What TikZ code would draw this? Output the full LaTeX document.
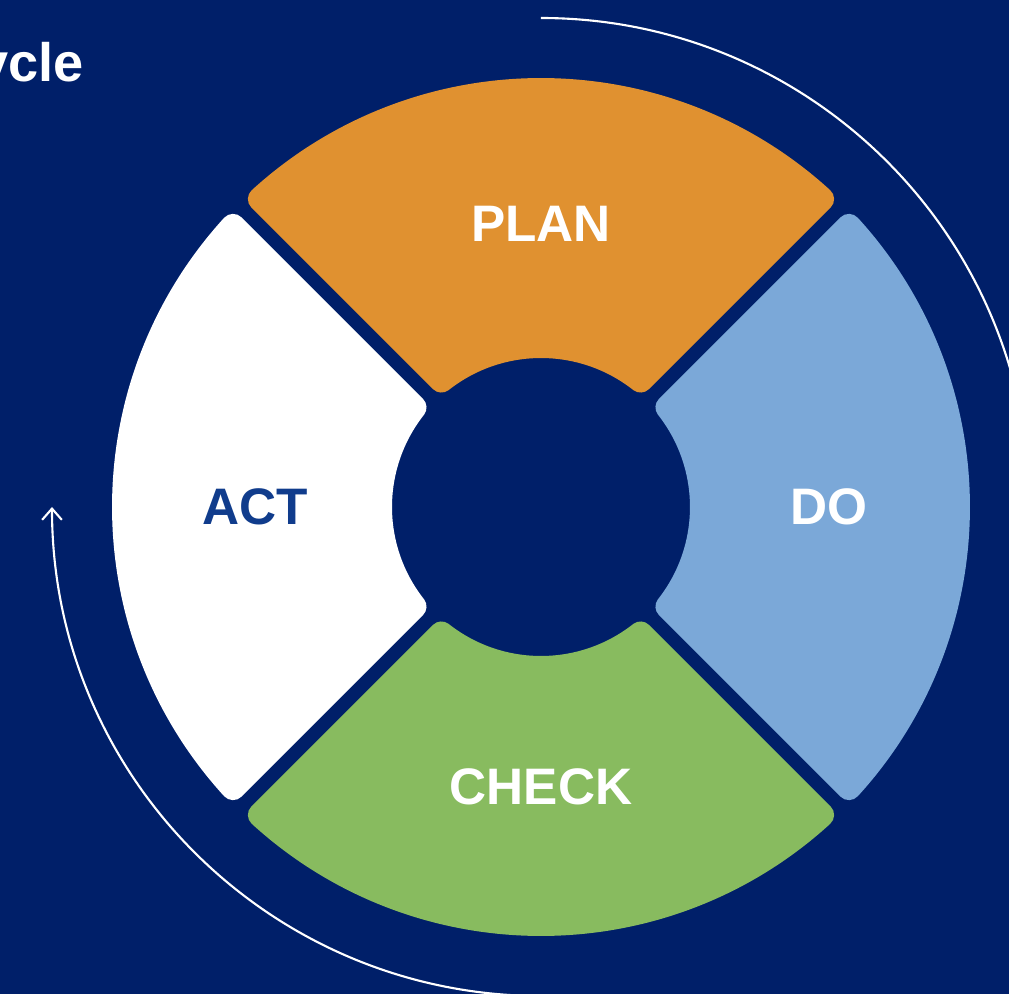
\documentclass[tikz,border=0pt]{standalone}
\usepackage{fontspec}
\setmainfont{Liberation Sans}
\usetikzlibrary{arrows.meta}

\definecolor{sfondo}{RGB}{0,31,105}
\definecolor{arancio}{RGB}{224,145,48}
\definecolor{azzurro}{RGB}{123,168,216}
\definecolor{verde}{RGB}{136,187,95}
\definecolor{bianco}{RGB}{255,255,255}
\definecolor{blu}{RGB}{16,60,140}

\begin{document}
\begin{tikzpicture}[x=0.025cm, y=0.025cm,
  font = \bfseries\fontsize{36.5}{40}\selectfont,
  settore/.style = {fill=#1, draw=#1, line width=0.6cm, line join=round},
  etichetta/.style = {text=#1, anchor=center, inner sep=0pt},
  freccia/.style = {white, line width=1.5pt}]
  % Sfondo e ritaglio
  \clip (-541,-487) rectangle (468,507);
  \fill[sfondo] (-541,-487) rectangle (468,507);

  % Centro e raggi
  \coordinate (O) at (0,0); % Centro del cerchio
  \pgfmathsetmacro{\Ro}{417} % raggio esterno (meno arrotondamento)
  \pgfmathsetmacro{\Ri}{161} % raggio interno (piu arrotondamento)
  \pgfmathsetmacro{\dest}{asin(19/\Ro)}
  \pgfmathsetmacro{\dint}{asin(19/\Ri)}

  % Disegna i quattro settori con le scritte
  \foreach \a/\r/\col/\testo/\tcol in {90/283/arancio/PLAN/white,
      0/288/azzurro/DO/white, 270/280/verde/CHECK/white, 180/286/bianco/ACT/blu}{
    \fill[settore=\col] (\a-45+\dest:\Ro)
      arc[start angle=\a-45+\dest, end angle=\a+45-\dest, radius=\Ro]
      -- (\a+45-\dint:\Ri)
      arc[start angle=\a+45-\dint, end angle=\a-45+\dint, radius=\Ri] -- cycle;
    \node[etichetta=\tcol] (\testo) at (\a:\r) {\testo};
  }

  % Titolo (tagliato dal bordo)
  \node[anchor=base east, text=white, inner sep=0pt,
        font=\bfseries\fontsize{38.5}{42}\selectfont] (titolo) at (-457,425) {Cycle};

  % Archi esterni
  \coordinate (A) at (90:489); % inizio arco superiore
  \draw[freccia] (A) arc[start angle=90, end angle=0, radius=489];
  \coordinate (B) at (270:489); % inizio arco inferiore
  \draw[freccia, -{Straight Barb[length=8pt, width=14pt]}] (B)
    arc[start angle=270, end angle=180, radius=489];
\end{tikzpicture}
\end{document}
